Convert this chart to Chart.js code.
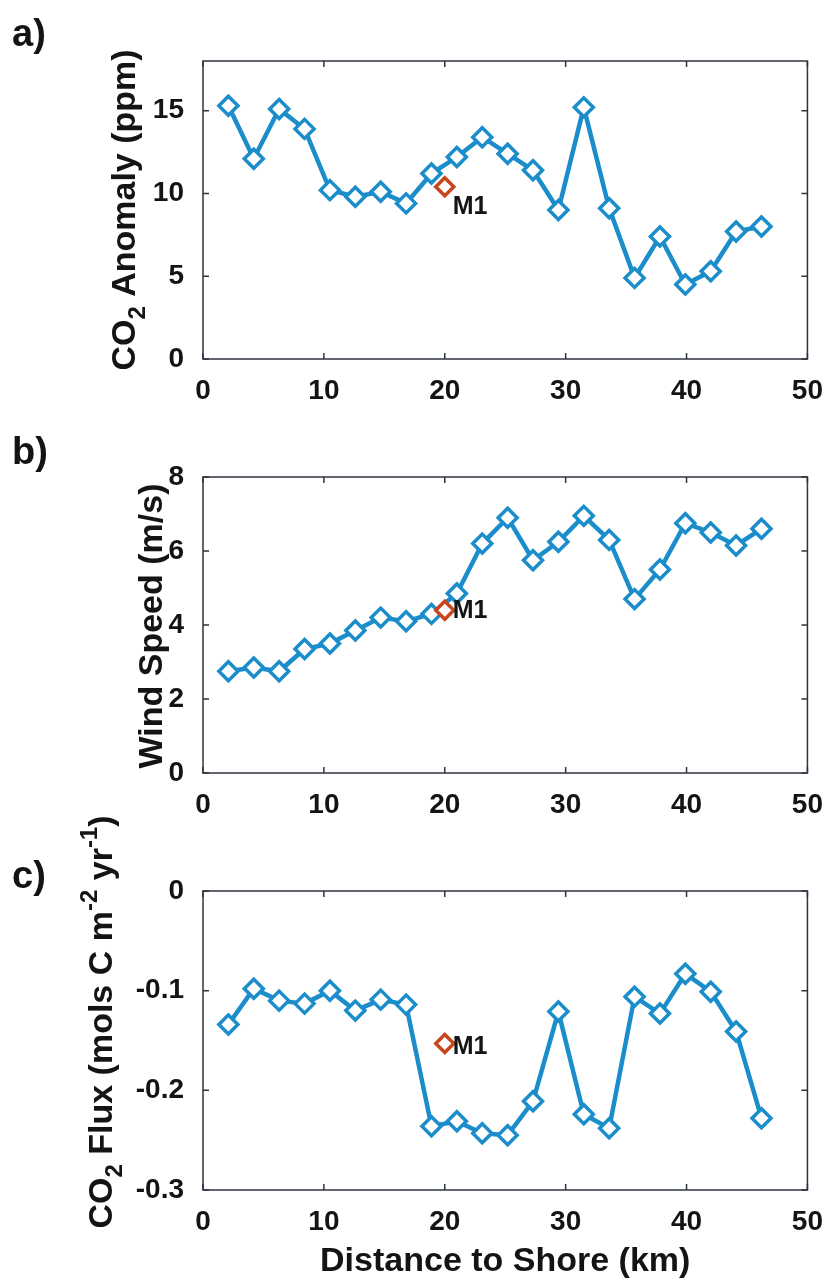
<!DOCTYPE html>
<html>
<head>
<meta charset="utf-8">
<script src="https://cdn.jsdelivr.net/npm/chart.js@4.4.1/dist/chart.umd.min.js"></script>
<style>
  html, body { margin: 0; padding: 0; background: #fff; }
  .page { position: relative; width: 830px; height: 1280px; }
  canvas { position: absolute; left: 0; display: block; }
  #chartA { top: 0; z-index: 1; }
  #chartB { top: 420px; z-index: 2; }
  #chartC { top: 800px; z-index: 3; }
</style>
</head>
<body>
<div class="page">
  <canvas id="chartA" width="830" height="420"></canvas>
  <canvas id="chartB" width="830" height="420"></canvas>
  <canvas id="chartC" width="830" height="480"></canvas>
</div>
<script>
'use strict';

// distance to shore (km) of each sample
const distance = [2.1, 4.2, 6.3, 8.4, 10.5, 12.6, 14.7, 16.8, 18.9, 21.0, 23.1,
  25.2, 27.3, 29.4, 31.5, 33.6, 35.7, 37.8, 39.9, 42.0, 44.1, 46.2];
const co2Anomaly = [15.3, 12.1, 15.1, 13.9, 10.2, 9.8, 10.1, 9.4, 11.2, 12.2, 13.4,
  12.4, 11.4, 9.0, 15.2, 9.1, 4.9, 7.4, 4.5, 5.3, 7.7, 8.0];
const windSpeed = [2.75, 2.85, 2.75, 3.35, 3.5, 3.85, 4.2, 4.1, 4.3, 4.85, 6.2,
  6.9, 5.75, 6.25, 6.95, 6.3, 4.7, 5.5, 6.75, 6.5, 6.15, 6.6];
const co2Flux = [-0.134, -0.098, -0.110, -0.113, -0.100, -0.120, -0.109, -0.114, -0.236, -0.231, -0.243,
  -0.245, -0.211, -0.121, -0.224, -0.238, -0.106, -0.123, -0.083, -0.101, -0.141, -0.228];

// mooring M1
const m1Label = 'M1';
const m1Distance = 20;
const m1Co2 = 10.4;
const m1Wind = 4.4;
const m1Flux = -0.153;

const xTicks = [0, 10, 20, 30, 40, 50];
const co2Ticks = [0, 5, 10, 15];
const windTicks = [0, 2, 4, 6, 8];
const fluxTicks = [-0.3, -0.2, -0.1, 0];

const family = '"Liberation Sans", Arial, sans-serif';
const ink = '#141414';
const boxColor = '#2e3440';
const lineColor = '#1a8dca';
const m1Color = '#c9461d';

function drawRotTitle(ctx, parts, bx, cy, size) {
  ctx.save();
  ctx.translate(bx, cy);
  ctx.rotate(-Math.PI / 2);
  ctx.fillStyle = ink;
  ctx.textAlign = 'left';
  ctx.textBaseline = 'alphabetic';
  const fontFor = p => 'bold ' + Math.round(p.sub || p.sup ? size * 0.72 : size) + 'px ' + family;
  let total = 0;
  parts.forEach(p => { ctx.font = fontFor(p); total += ctx.measureText(p.t).width; });
  let x = -total / 2;
  parts.forEach(p => {
    ctx.font = fontFor(p);
    const dy = p.sub ? size * 0.3 : p.sup ? -size * 0.45 : 0;
    ctx.fillText(p.t, x, dy);
    x += ctx.measureText(p.t).width;
  });
  ctx.restore();
}

function makeFrame(cfg) {
  return {
    id: 'frame',
    afterDraw(chart) {
      const ctx = chart.ctx;
      const a = chart.chartArea;
      const xs = chart.scales.x;
      const ys = chart.scales.y;
      ctx.save();
      // box with inward ticks on all sides
      ctx.strokeStyle = boxColor;
      ctx.lineWidth = 1.5;
      ctx.strokeRect(a.left, a.top, a.right - a.left, a.bottom - a.top);
      ctx.beginPath();
      xTicks.forEach(v => {
        const px = xs.getPixelForValue(v);
        ctx.moveTo(px, a.bottom); ctx.lineTo(px, a.bottom - 6);
        ctx.moveTo(px, a.top); ctx.lineTo(px, a.top + 6);
      });
      cfg.ticks.forEach(v => {
        const py = ys.getPixelForValue(v);
        ctx.moveTo(a.left, py); ctx.lineTo(a.left + 6, py);
        ctx.moveTo(a.right, py); ctx.lineTo(a.right - 6, py);
      });
      ctx.stroke();

      // M1 label
      const mx = xs.getPixelForValue(m1Distance);
      const my = ys.getPixelForValue(cfg.m1);
      ctx.fillStyle = ink;
      ctx.font = 'bold 25px ' + family;
      ctx.textAlign = 'left';
      ctx.textBaseline = 'middle';
      ctx.fillText(m1Label, mx + cfg.labelDx, my + cfg.labelDy);

      // panel letter
      ctx.font = 'bold 38px ' + family;
      ctx.textBaseline = 'alphabetic';
      ctx.fillText(cfg.letter, 12, cfg.letterY);

      // x title (bottom panel only)
      if (cfg.xTitle) {
        ctx.font = 'bold 34px ' + family;
        ctx.textAlign = 'center';
        ctx.textBaseline = 'middle';
        ctx.fillText(cfg.xTitle, (a.left + a.right) / 2, cfg.xTitleY);
      }
      ctx.restore();

      drawRotTitle(ctx, cfg.yTitle, cfg.yTitleX, cfg.yTitleY, 34);
    }
  };
}

function makePanel(id, cfg) {
  const points = distance.map((d, i) => ({ x: d, y: cfg.values[i] }));
  const tickFont = { family: family, size: 28, weight: 'bold' };

  new Chart(document.getElementById(id), {
    type: 'line',
    data: {
      datasets: [
        {
          data: [{ x: m1Distance, y: cfg.m1 }],
          showLine: false,
          pointStyle: 'rectRot',
          pointRadius: 9,
          pointBorderWidth: 3.5,
          pointBorderColor: m1Color,
          pointBackgroundColor: '#ffffff'
        },
        {
          data: points,
          borderColor: lineColor,
          borderWidth: 4.5,
          tension: 0,
          pointStyle: 'rectRot',
          pointRadius: 9.5,
          pointBorderWidth: 3.5,
          pointBorderColor: lineColor,
          pointBackgroundColor: '#ffffff'
        }
      ]
    },
    options: {
      responsive: false,
      animation: false,
      events: [],
      layout: { padding: { left: 0, right: 22, top: cfg.top, bottom: 0 } },
      plugins: { legend: { display: false }, tooltip: { enabled: false } },
      scales: {
        x: {
          type: 'linear',
          min: 0,
          max: 50,
          afterBuildTicks: s => { s.ticks = xTicks.map(v => ({ value: v })); },
          afterFit: s => { s.height = cfg.xHeight; },
          grid: { display: false },
          border: { display: false },
          ticks: { font: tickFont, color: ink, padding: 7, maxRotation: 0, callback: v => String(v) }
        },
        y: {
          type: 'linear',
          min: cfg.min,
          max: cfg.max,
          afterBuildTicks: s => { s.ticks = cfg.ticks.map(v => ({ value: v })); },
          afterFit: s => { s.width = 203; },
          grid: { display: false },
          border: { display: false },
          ticks: { font: tickFont, color: ink, padding: 11, callback: v => String(v) }
        }
      }
    },
    plugins: [makeFrame(cfg)]
  });
}

makePanel('chartA', {
  values: co2Anomaly, m1: m1Co2, min: 0, max: 18, ticks: co2Ticks,
  top: 61, xHeight: 61,
  labelDx: 8, labelDy: 20,
  letter: 'a)', letterY: 46,
  yTitle: [{ t: 'CO' }, { t: '2', sub: true }, { t: ' Anomaly (ppm)' }],
  yTitleX: 135, yTitleY: 210
});

makePanel('chartB', {
  values: windSpeed, m1: m1Wind, min: 0, max: 8, ticks: windTicks,
  top: 57, xHeight: 67,
  labelDx: 8, labelDy: 1,
  letter: 'b)', letterY: 44,
  yTitle: [{ t: 'Wind Speed (m/s)' }],
  yTitleX: 162, yTitleY: 206
});

makePanel('chartC', {
  values: co2Flux, m1: m1Flux, min: -0.3, max: 0, ticks: fluxTicks,
  top: 91, xHeight: 90,
  labelDx: 8, labelDy: 4,
  letter: 'c)', letterY: 88,
  yTitle: [{ t: 'CO' }, { t: '2', sub: true }, { t: ' Flux (mols C m' }, { t: '-2', sup: true },
    { t: ' yr' }, { t: '-1', sup: true }, { t: ')' }],
  yTitleX: 112, yTitleY: 222,
  xTitle: 'Distance to Shore (km)', xTitleY: 462
});
</script>
</body>
</html>
